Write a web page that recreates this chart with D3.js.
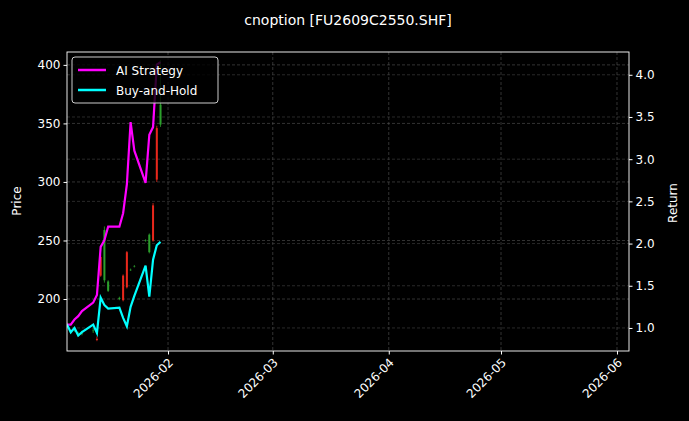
<!DOCTYPE html>
<html><head><meta charset="utf-8">
<script src="https://cdn.jsdelivr.net/npm/d3@7"></script>
<style>body{margin:0;background:#000}svg{font-family:"DejaVu Sans",sans-serif}</style>
</head><body>
<script>
const dates=["2026-01-05","2026-01-06","2026-01-07","2026-01-08","2026-01-09","2026-01-12","2026-01-13","2026-01-14","2026-01-15","2026-01-16","2026-01-19","2026-01-20","2026-01-21","2026-01-22","2026-01-23","2026-01-26","2026-01-27","2026-01-28","2026-01-29","2026-01-30"];
const openP =[178,172,174,170,171,173,166,236,216,207,200,220,240,225,228,250,240,280,346,349];
const highP =[180,174,176,172,173,175,168,238,262,216,202,221,241,226,229,251,256,282,348,404];
const lowP  =[176,170,172,168,169,171,164,219,214,206,199,198,209,224,227,249,239,249,300,347];
const closeP=[178,172,174,170,171,173,165,220,259,215,201,199,210,225,228,250,255,250,302,366];
const strategy=[1.04,1.04,1.10,1.14,1.20,1.30,1.39,1.96,2.04,2.20,2.20,2.36,2.70,3.44,3.10,2.72,3.29,3.38,4.12,4.15];
const buyHold=[1.04,0.95,1.00,0.91,0.95,1.04,0.94,1.36,1.27,1.23,1.24,1.12,1.02,1.25,1.38,1.74,1.37,1.81,1.98,2.02];
const priceTicks=[200,250,300,350,400];
const retTicks=[1.0,1.5,2.0,2.5,3.0,3.5,4.0];
const xTicks=["2026-02-01","2026-03-01","2026-04-01","2026-05-01","2026-06-01"];

const W=689,H=421,L=67,R=629,T=52,B=351;
const p=d3.timeParse("%Y-%m-%d");
const svg=d3.select("body").append("svg").attr("width",W).attr("height",H).style("background","#000");
const x=d3.scaleTime().domain([p("2026-01-05"),d3.timeHour.offset(p("2026-06-04"),5)]).range([L,R]);
const y=d3.scaleLinear().domain([155.6,411]).range([B,T]);
const y2=d3.scaleLinear().domain([0.727,4.27]).range([B,T]);
const g=svg.append("g");
xTicks.forEach(t=>g.append("line").attr("x1",x(p(t))).attr("x2",x(p(t))).attr("y1",T).attr("y2",B).attr("stroke","#555").attr("stroke-dasharray","3,2").attr("stroke-width",0.6));
priceTicks.forEach(t=>g.append("line").attr("x1",L).attr("x2",R).attr("y1",y(t)).attr("y2",y(t)).attr("stroke","#555").attr("stroke-dasharray","3,2").attr("stroke-width",0.6));
retTicks.forEach(t=>g.append("line").attr("x1",L).attr("x2",R).attr("y1",y2(t)).attr("y2",y2(t)).attr("stroke","#444").attr("stroke-dasharray","3,2").attr("stroke-width",0.6));
svg.append("clipPath").attr("id","c").append("rect").attr("x",L).attr("y",T).attr("width",R-L).attr("height",B-T);
const cg=svg.append("g").attr("clip-path","url(#c)");
dates.forEach((d,i)=>{
  const cx=x(p(d)),col=closeP[i]>=openP[i]?"#2ca02c":"#e8281c";
  cg.append("line").attr("x1",cx).attr("x2",cx).attr("y1",y(highP[i])).attr("y2",y(lowP[i])).attr("stroke",col).attr("stroke-width",0.8);
  const top=y(Math.max(openP[i],closeP[i])),bot=y(Math.min(openP[i],closeP[i]));
  cg.append("rect").attr("x",cx-1).attr("width",2).attr("y",top).attr("height",Math.max(0.5,bot-top)).attr("fill",col);
});
const line=arr=>d3.line().x((d,i)=>x(p(dates[i]))).y(d=>y2(d))(arr);
cg.append("path").attr("d",line(strategy)).attr("fill","none").attr("stroke","#ff00ff").attr("stroke-width",2.2);
cg.append("path").attr("d",line(buyHold)).attr("fill","none").attr("stroke","#00ffff").attr("stroke-width",2.2);
const ax=svg.append("g").attr("transform",`translate(0,${B})`).call(d3.axisBottom(x).tickValues(xTicks.map(p)).tickFormat(d3.timeFormat("%Y-%m")).tickSize(3.5));
ax.selectAll("text").attr("text-anchor","end").attr("transform","rotate(-45)").attr("dx","-0.4em").attr("dy","0.5em");
const ay=svg.append("g").attr("transform",`translate(${L},0)`).call(d3.axisLeft(y).tickValues(priceTicks).tickSize(3.5));
const ay2=svg.append("g").attr("transform",`translate(${R},0)`).call(d3.axisRight(y2).tickValues(retTicks).tickFormat(d3.format(".1f")).tickSize(3.5));
[ax,ay,ay2].forEach(a=>{a.select(".domain").remove();a.selectAll("line").attr("stroke","#fff");a.selectAll("text").attr("fill","#fff").attr("font-size",12).attr("font-family","DejaVu Sans");});
svg.append("rect").attr("x",L).attr("y",T).attr("width",R-L).attr("height",B-T).attr("fill","none").attr("stroke","#fff").attr("stroke-width",0.9);
svg.append("text").attr("x",348).attr("y",25).attr("text-anchor","middle").attr("fill","#fff").attr("font-size",14).text("cnoption [FU2609C2550.SHF]");
svg.append("text").attr("transform","translate(21,201) rotate(-90)").attr("text-anchor","middle").attr("fill","#fff").attr("font-size",12).text("Price");
svg.append("text").attr("transform","translate(677,203) rotate(-90)").attr("text-anchor","middle").attr("fill","#fff").attr("font-size",12).text("Return");
const lg=svg.append("g");
lg.append("rect").attr("x",72).attr("y",57).attr("width",146).attr("height",46).attr("rx",3).attr("fill","#000").attr("fill-opacity",0.8).attr("stroke","#ccc");
[["AI Strategy","#ff00ff"],["Buy-and-Hold","#00ffff"]].forEach((s,i)=>{
  const yy=70+i*20;
  lg.append("line").attr("x1",78).attr("x2",106).attr("y1",yy).attr("y2",yy).attr("stroke",s[1]).attr("stroke-width",2.5);
  lg.append("text").attr("x",116).attr("y",yy+4.5).attr("fill","#fff").attr("font-size",12).text(s[0]);
});
</script>
</body></html>
